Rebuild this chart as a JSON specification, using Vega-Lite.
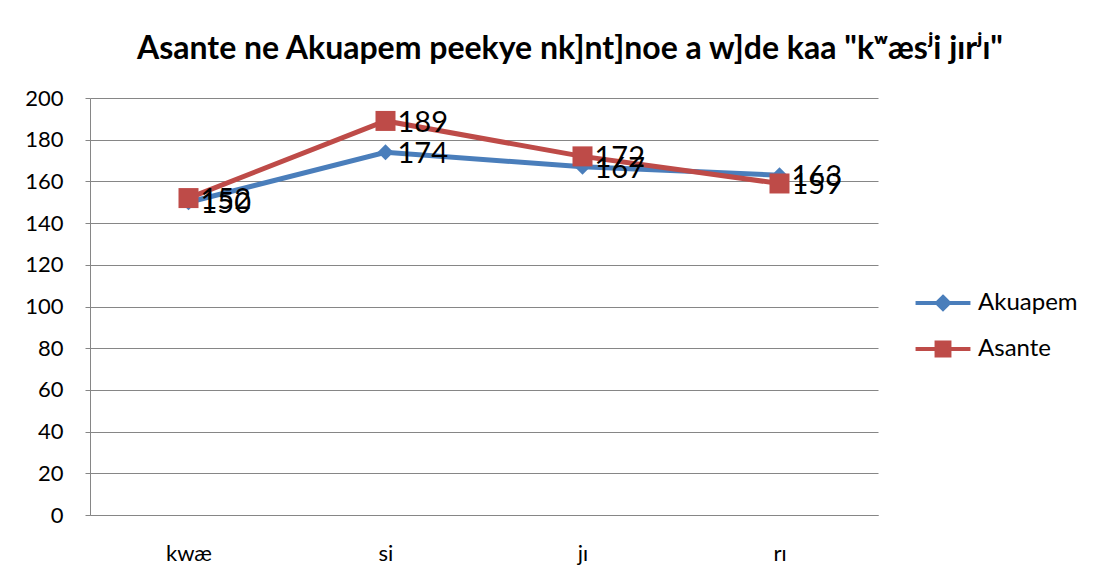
{
  "$schema": "https://vega.github.io/schema/vega-lite/v6.json",
  "width": 788,
  "height": 417,
  "autosize": "none",
  "padding": {"left": 90, "top": 98, "right": 221, "bottom": 63},
  "background": "white",
  "title": {
    "text": "Asante ne Akuapem peekye nk]nt]noe a w]de kaa \"kʷæsʲi jɪrʲɪ\"",
    "font": "Lato",
    "fontSize": 32,
    "fontWeight": "bold",
    "color": "black",
    "dx": 86,
    "offset": 21
  },
  "data": {
    "values": [
      {"syllable": "kwæ", "series": "Akuapem", "value": 150},
      {"syllable": "si", "series": "Akuapem", "value": 174},
      {"syllable": "jɪ", "series": "Akuapem", "value": 167},
      {"syllable": "rɪ", "series": "Akuapem", "value": 163},
      {"syllable": "kwæ", "series": "Asante", "value": 152},
      {"syllable": "si", "series": "Asante", "value": 189},
      {"syllable": "jɪ", "series": "Asante", "value": 172},
      {"syllable": "rɪ", "series": "Asante", "value": 159}
    ]
  },
  "config": {
    "view": {"stroke": null},
    "axis": {
      "labelFont": "Lato",
      "labelFontSize": 22,
      "labelColor": "black",
      "domainColor": "#868686",
      "tickColor": "#868686",
      "gridColor": "#868686",
      "title": null
    },
    "legend": {
      "orient": "none",
      "legendX": 836,
      "legendY": 188,
      "padding": 0,
      "labelFont": "Lato",
      "labelFontSize": 24,
      "labelColor": "black",
      "symbolSize": 900,
      "symbolStrokeWidth": 4,
      "symbolOpacity": 1,
      "labelOffset": 18,
      "rowPadding": 15
    }
  },
  "encoding": {
    "x": {
      "field": "syllable",
      "type": "ordinal",
      "sort": null,
      "scale": {"type": "point", "padding": 0.5},
      "axis": {"labelAngle": 0, "ticks": false, "labelPadding": 28, "grid": false, "title": null}
    },
    "y": {
      "field": "value",
      "type": "quantitative",
      "scale": {"domain": [0, 200], "nice": false},
      "axis": {"values": [0, 20, 40, 60, 80, 100, 120, 140, 160, 180, 200], "tickSize": 5, "labelPadding": 22, "grid": true, "title": null}
    },
    "color": {
      "field": "series",
      "type": "nominal",
      "scale": {"domain": ["Akuapem", "Asante"], "range": ["#4A7EBB", "#BE4B48"]},
      "legend": null
    }
  },
  "resolve": {"scale": {"shape": "independent"}, "legend": {"color": "independent", "shape": "independent", "stroke": "independent"}},
  "layer": [
    {"mark": {"type": "line", "strokeWidth": 5}},
    {
      "mark": {"type": "point", "filled": true, "opacity": 1},
      "encoding": {
        "shape": {"field": "series", "type": "nominal", "scale": {"domain": ["Akuapem", "Asante"], "range": ["diamond", "square"]}, "legend": null},
        "size": {"field": "series", "type": "ordinal", "scale": {"domain": ["Akuapem", "Asante"], "range": [256, 400]}, "legend": null}
      }
    },
    {
      "mark": {"type": "point", "filled": true, "opacity": 0},
      "encoding": {
        "color": {"field": "series", "type": "nominal", "title": null, "legend": {}},
        "stroke": {"field": "series", "type": "nominal", "title": null, "scale": {"domain": ["Akuapem", "Asante"], "range": ["#4A7EBB", "#BE4B48"]}, "legend": {}},
        "shape": {"field": "series", "type": "nominal", "title": null, "scale": {"domain": ["Akuapem", "Asante"], "range": ["M-1.83,0L1.83,0M0,-0.4L0.4,0L0,0.4L-0.4,0Z", "M-1.83,0L1.83,0M-0.43,-0.43L0.43,-0.43L0.43,0.43L-0.43,0.43Z"]}, "legend": {}}
      }
    },
    {
      "mark": {"type": "text", "align": "left", "baseline": "middle", "dx": 12, "dy": 2, "fontSize": 29, "font": "Lato", "color": "black"},
      "encoding": {"text": {"field": "value", "type": "quantitative"}, "color": {"value": "black"}}
    }
  ]
}
